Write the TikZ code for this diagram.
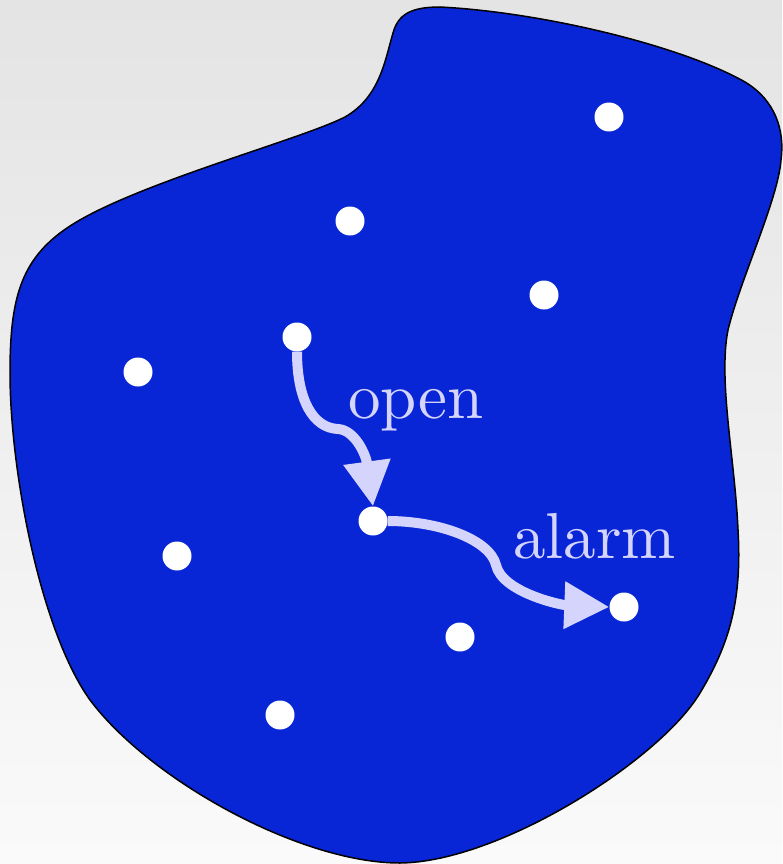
\documentclass[tikz,border=0pt]{standalone}
\usepackage{fontspec}
\setmainfont{lmroman10-regular.otf}
\usetikzlibrary{arrows.meta}
\definecolor{bgtop}{RGB}{228,228,228}
\definecolor{bgbot}{RGB}{250,250,250}
\definecolor{blobblue}{RGB}{8,38,214}
\definecolor{lav}{RGB}{212,212,252}
\begin{document}
\begin{tikzpicture}[x=1pt,y=-1pt,
  dot/.style={circle,fill=white,inner sep=0pt,minimum size=29pt},
  arr/.style={draw=lav,line width=10pt,-{Triangle[length=45pt,width=45pt,fill=lav]}},
  lbl/.style={text=lav,font=\fontsize{65}{78}\selectfont,anchor=base west,inner sep=0pt}]
\useasboundingbox (0,0) rectangle (782,864);
\shade[top color=bgtop,bottom color=bgbot] (0,0) rectangle (782,864);
\draw[fill=blobblue,line width=1.5pt]
  (440,7) .. controls (540,12) and (680,45) .. (745,82)
  .. controls (775,100) and (785,130) .. (781,160)
  .. controls (778,200) and (740,280) .. (728,330)
  .. controls (718,380) and (735,460) .. (738,530)
  .. controls (742,600) and (730,643) .. (700,693)
  .. controls (660,760) and (500,862) .. (400,863)
  .. controls (300,863) and (150,780) .. (90,700)
  .. controls (40,630) and (10,470) .. (10,373)
  .. controls (10,300) and (20,260) .. (67,228)
  .. controls (130,185) and (300,140) .. (345,117)
  .. controls (380,97) and (385,60) .. (393,33)
  .. controls (398,15) and (410,7) .. (440,7) -- cycle;
\node[dot] (d1) at (609,117) {};
\node[dot] (d2) at (350,221) {};
\node[dot] (d3) at (544,295) {};
\node[dot] (d4) at (297,337) {};
\node[dot] (d5) at (138,372) {};
\node[dot] (d6) at (373,521) {};
\node[dot] (d7) at (177,556) {};
\node[dot] (d8) at (624,607) {};
\node[dot] (d9) at (460,637) {};
\node[dot] (d10) at (280,715) {};
\draw[arr] (d4.south) .. controls (297,400) and (313,428) .. (338,429)
  .. controls (355,430) and (366,455) .. (d6.north);
\draw[arr] (d6.east) .. controls (440,521) and (490,540) .. (496,565)
  .. controls (502,592) and (560,605) .. (d8.west);
\node[lbl] (open) at (348,418) {open};
\node[lbl] (alarm) at (513,558) {alarm};
\end{tikzpicture}
\end{document}
